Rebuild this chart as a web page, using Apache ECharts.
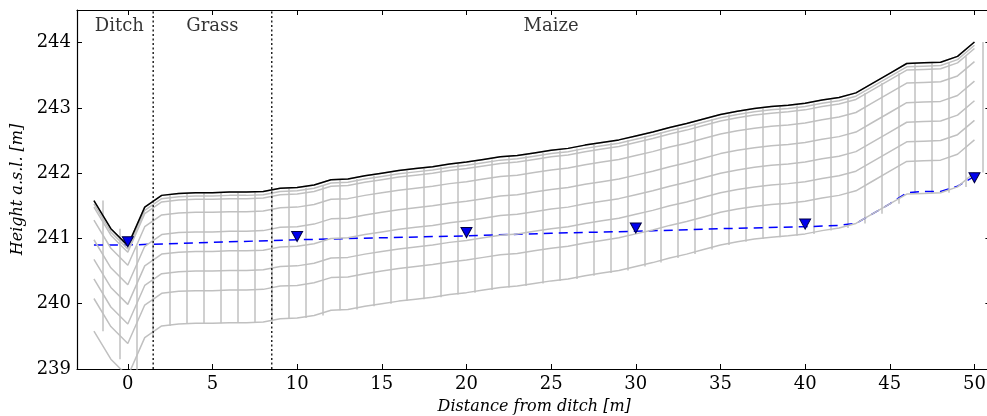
<!DOCTYPE html>
<html>
<head>
<meta charset="utf-8">
<script src="https://cdn.jsdelivr.net/npm/echarts@6/dist/echarts.min.js"></script>
<style>html,body{margin:0;padding:0;background:#fff;}#chart{width:987px;height:416px;}</style>
</head>
<body>
<div id="chart"></div>
<script>
// Mesh node x positions [m]
const xNodes = [-2,-1,0,1,2,3,4,5,6,7,8,9,10,11,12,13,14,15,16,17,18,19,20,21,22,23,24,25,26,27,28,29,30,31,32,33,34,35,36,37,38,39,40,41,42,43,44,45,46,47,48,49,50];
// Surface elevation at each node [m a.s.l.]
const surface = [241.58,241.15,240.89,241.48,241.66,241.69,241.70,241.70,241.71,241.71,241.72,241.77,241.78,241.82,241.90,241.91,241.96,242.00,242.04,242.07,242.10,242.14,242.17,242.21,242.25,242.27,242.31,242.35,242.38,242.43,242.47,242.51,242.57,242.63,242.70,242.76,242.83,242.90,242.95,242.99,243.02,243.04,243.07,243.12,243.16,243.23,243.38,243.53,243.68,243.69,243.70,243.79,244.01];
// Mesh layer depths below surface [m]
const layerDepths = [0, 0.05, 0.1, 0.3, 0.6, 0.9, 1.2, 1.5, 2.0];
// Vertical mesh column lines x positions (one per node column)
const columnX = [-1.5,-0.5,0.5,1.5,2.5,3.5,4.5,5.5,6.5,7.5,8.5,9.5,10.5,11.5,12.5,13.5,14.5,15.5,16.5,17.5,18.5,19.5,20.5,21.5,22.5,23.5,24.5,25.5,26.5,27.5,28.5,29.5,30.5,31.5,32.5,33.5,34.5,35.5,36.5,37.5,38.5,39.5,40.5,41.5,42.5,43.5,44.5,45.5,46.5,47.5,48.5,49.5,50.5];
// Simulated water table
const wtX = [-2, 0, 5, 10, 15, 20, 25, 30, 35, 40, 42, 43, 44, 45, 46, 47, 48, 49, 50];
const wtY = [240.90, 240.90, 240.94, 240.98, 241.01, 241.04, 241.08, 241.11, 241.15, 241.18, 241.20, 241.23, 241.38, 241.53, 241.70, 241.72, 241.72, 241.80, 241.95];
// Observed water levels
const obsX = [0, 10, 20, 30, 40, 50];
const obsY = [240.95, 241.03, 241.09, 241.16, 241.22, 241.93];
// Land-use zones
const zoneNames = ['Ditch', 'Grass', 'Maize'];
const zoneX = [-0.5, 5, 25];
const zoneLabelY = 244.25;
const zoneBounds = [1.5, 8.5];
// Axis ticks
const xTicks = [0, 5, 10, 15, 20, 25, 30, 35, 40, 45, 50];
const yTicks = [239, 240, 241, 242, 243, 244];

const FONT = 'DejaVu Serif';
const GREY = '#c0c0c0';

const series = [];
// layer lines
layerDepths.forEach((d) => {
  series.push({
    type: 'line', xAxisIndex: 0, yAxisIndex: 0,
    data: xNodes.map((x, i) => [x, +(surface[i] - d).toFixed(3)]),
    showSymbol: false, symbol: 'none', silent: true, animation: false,
    lineStyle: { color: GREY, width: 1.5 }, z: 3
  });
});
// vertical column lines
series.push({
  type: 'lines', coordinateSystem: 'cartesian2d', xAxisIndex: 0, yAxisIndex: 0,
  silent: true, animation: false, clip: true, z: 1,
  lineStyle: { color: GREY, width: 1.5, opacity: 1 },
  data: columnX.map((cx, i) => ({
    coords: [[cx, surface[i]], [cx, +(surface[i] - layerDepths[layerDepths.length - 1]).toFixed(3)]]
  }))
});
// zone boundaries
zoneBounds.forEach(b => {
  series.push({
    type: 'line', data: [[b, 239], [b, 244.5]], showSymbol: false, symbol: 'none',
    silent: true, animation: false, z: 4,
    lineStyle: { color: '#222', width: 1.5, type: [2, 2.5] }
  });
});
// water table
series.push({
  type: 'line', data: wtX.map((x, i) => [x, wtY[i]]), showSymbol: false, symbol: 'none',
  silent: true, animation: false, z: 2,
  lineStyle: { color: '#0000ff', width: 1.5, type: [9, 6] }
});
// surface
series.push({
  type: 'line', data: xNodes.map((x, i) => [x, surface[i]]), showSymbol: false, symbol: 'none',
  silent: true, animation: false, z: 5,
  lineStyle: { color: '#000', width: 1.5 }
});
// observations
series.push({
  type: 'scatter', data: obsX.map((x, i) => [x, obsY[i]]),
  symbol: 'triangle', symbolRotate: 180, symbolSize: [11, 10], silent: true, animation: false, z: 6,
  itemStyle: { color: '#0000ee', borderColor: '#000044', borderWidth: 1, opacity: 1 }
});
// zone labels
series.push({
  type: 'scatter', data: zoneNames.map((n, i) => ({ name: n, value: [zoneX[i], zoneLabelY] })),
  symbolSize: 1, silent: true, animation: false, z: 7,
  itemStyle: { color: 'rgba(0,0,0,0)' },
  label: { show: true, position: 'inside', formatter: p => p.name, color: '#000', fontFamily: FONT, fontSize: 18 }
});

const X_MIN = -3, X_MAX = 51;
const commonX = { type: 'value', min: X_MIN, max: X_MAX, splitLine: { show: false } };
const commonY = { type: 'value', min: 239, max: 244.5, splitLine: { show: false } };

const chart = echarts.init(document.getElementById('chart'), null, { renderer: 'canvas' });
chart.setOption({
  animation: false,
  backgroundColor: '#fff',
  grid: { left: 77, top: 10, width: 914.4, height: 359, containLabel: false, outerBoundsMode: 'none' },
  xAxis: [
    Object.assign({}, commonX, {
      position: 'bottom',
      name: 'Distance from ditch [m]', nameLocation: 'middle', nameGap: 30,
      nameTextStyle: { fontFamily: FONT, fontStyle: 'italic', fontSize: 16, color: '#000' },
      axisLine: { show: true, onZero: false, lineStyle: { color: '#000', width: 1.2 } },
      axisTick: { show: true, inside: true, length: 5, customValues: xTicks, lineStyle: { color: '#000' } },
      axisLabel: { show: true, margin: 6, customValues: xTicks, fontFamily: FONT, fontSize: 18, color: '#000' }
    }),
    Object.assign({}, commonX, {
      position: 'top',
      axisLine: { show: true, onZero: false, lineStyle: { color: '#000', width: 1.2 } },
      axisTick: { show: true, inside: true, length: 5, customValues: xTicks, lineStyle: { color: '#000' } },
      axisLabel: { show: false }
    })
  ],
  yAxis: [
    Object.assign({}, commonY, {
      position: 'left',
      name: 'Height a.s.l. [m]', nameLocation: 'middle', nameGap: 43, nameRotate: 90,
      nameTextStyle: { fontFamily: FONT, fontStyle: 'italic', fontSize: 16, color: '#000' },
      axisLine: { show: true, onZero: false, lineStyle: { color: '#000', width: 1.2 } },
      axisTick: { show: true, inside: true, length: 5, customValues: yTicks, lineStyle: { color: '#000' } },
      axisLabel: { show: true, margin: 6, customValues: yTicks, fontFamily: FONT, fontSize: 18, color: '#000' }
    }),
    Object.assign({}, commonY, {
      position: 'right',
      axisLine: { show: true, onZero: false, lineStyle: { color: '#000', width: 1.2 } },
      axisTick: { show: true, inside: true, length: 6, customValues: yTicks, lineStyle: { color: '#000' } },
      axisLabel: { show: false }
    })
  ],
  series: series
});
</script>
</body>
</html>
